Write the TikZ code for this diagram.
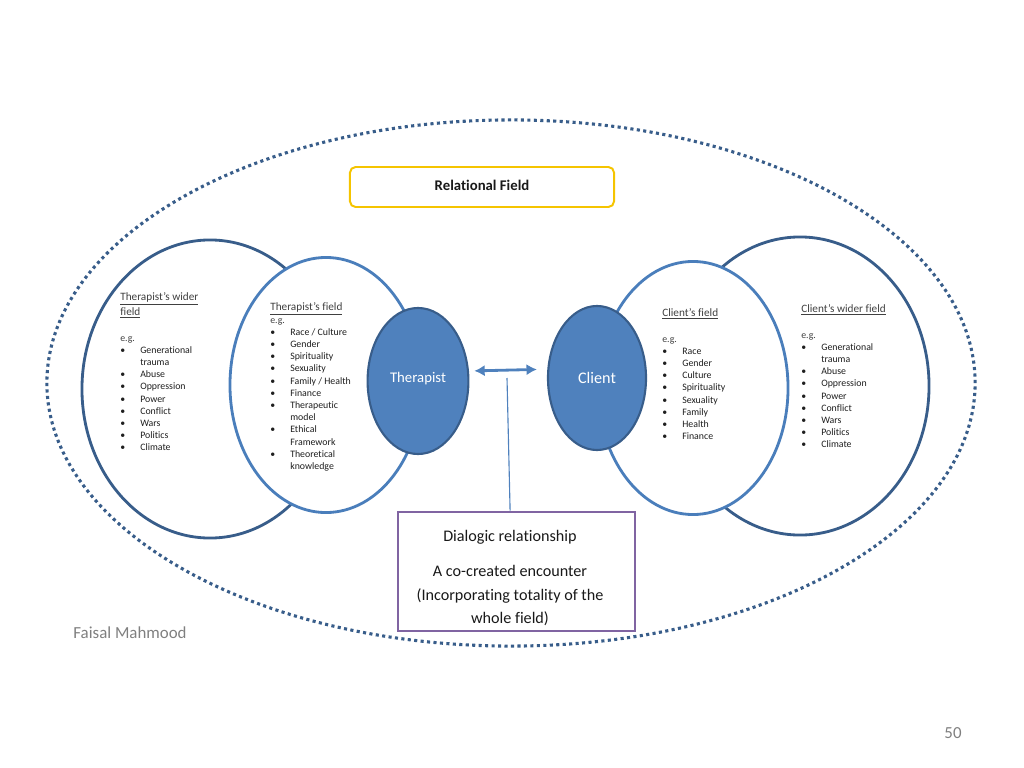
\documentclass[tikz,border=0pt]{standalone}
\usepackage{fontspec}
\setmainfont{Carlito}[Ligatures=NoCommon]
\usepackage{tikz}
\usetikzlibrary{arrows.meta,positioning,shapes.geometric}
\definecolor{FieldDark}{HTML}{385D8A}
\definecolor{FieldBlue}{HTML}{4A7EBB}
\definecolor{CoreBlue}{HTML}{4F81BD}
\definecolor{DialPurple}{HTML}{8064A2}
\definecolor{FieldGold}{HTML}{F5C400}
\definecolor{NoteGray}{HTML}{7F7F7F}
\definecolor{HeadGray}{HTML}{404040}

\begin{document}
\begin{tikzpicture}[x=0.025cm,y=-0.025cm,>=Latex,
  wider/.style={ellipse,draw=FieldDark,line width=2pt,fill=white,inner sep=0pt},
  field/.style={ellipse,draw=FieldBlue,line width=2pt,fill=white,inner sep=0pt},
  core/.style={ellipse,draw=FieldDark,line width=1.5pt,fill=CoreBlue,inner sep=0pt,text=white},
  fieldhead/.style={anchor=base west,inner sep=0pt,text=HeadGray,font=\fontsize{8}{10.7}\selectfont},
  fieldlist/.style={anchor=base west,inner sep=0pt,text=black!88,font=\fontsize{7}{8.68}\selectfont},
  note/.style={inner sep=0pt,text=NoteGray,font=\fontsize{12}{14}\selectfont}]
\useasboundingbox (0,0) rectangle (1024,768);
% the whole relational field
\node[ellipse,draw=FieldDark,line width=2.2pt,dash pattern=on 2.2pt off 2.4pt,minimum width=23.2cm,minimum height=13.15cm,inner sep=0pt] (whole) at (511,383) {};
\node[draw=FieldGold,line width=1.4pt,fill=white,rounded corners=4pt,minimum width=6.6cm,minimum height=1cm,font=\bfseries\fontsize{10.5}{12}\selectfont,text=black!90] (relf) at (482,187) {\raisebox{2.5pt}{Relational Field}};
% fields
\node[wider,minimum width=6.4cm,minimum height=7.45cm] (twide) at (210,389) {};
\node[wider,minimum width=6.45cm,minimum height=7.45cm] (cwide) at (800,386) {};
\node[field,minimum width=4.8cm,minimum height=6.375cm] (tfield) at (326,385) {};
\node[field,minimum width=4.75cm,minimum height=6.325cm] (cfield) at (693,388) {};
\node[core,minimum width=2.52cm,minimum height=3.65cm,font=\fontsize{10.5}{12}\selectfont] (ther) at (418,381) {\raisebox{5pt}{Therapist}};
\node[core,minimum width=2.45cm,minimum height=3.6cm,font=\fontsize{11.5}{13}\selectfont] (cli) at (597,378) {Client};
% texts
\node[fieldhead] (twhead) at (120,300) {\begin{tabular}[t]{@{}l@{}}\underline{Therapist’s wider}\\ \underline{field}\end{tabular}};
\node[fieldlist] (twlist) at (120,341) {\begin{tabular}[t]{@{}p{0.5cm}@{}l@{}}
\multicolumn{2}{@{}l@{}}{\textcolor{HeadGray}{e.g.}}\\
\textbullet & Generational\\ & trauma\\
\textbullet & Abuse\\ \textbullet & Oppression\\ \textbullet & Power\\
\textbullet & Conflict\\ \textbullet & Wars\\ \textbullet & Politics\\ \textbullet & Climate
\end{tabular}};
\node[fieldhead] (tfhead) at (270,310) {\underline{Therapist’s field}};
\node[fieldlist] (tflist) at (270,323) {\begin{tabular}[t]{@{}p{0.5cm}@{}l@{}}
\multicolumn{2}{@{}l@{}}{\textcolor{HeadGray}{e.g.}}\\
\textbullet & Race / Culture\\ \textbullet & Gender\\ \textbullet & Spirituality\\
\textbullet & Sexuality\\ \textbullet & Family / Health\\ \textbullet & Finance\\
\textbullet & Therapeutic\\ & model\\ \textbullet & Ethical\\ & Framework\\
\textbullet & Theoretical\\ & knowledge
\end{tabular}};
\node[fieldhead] (cfhead) at (662,316) {\underline{Client’s field}};
\node[fieldlist] (cflist) at (662,342) {\begin{tabular}[t]{@{}p{0.5cm}@{}l@{}}
\multicolumn{2}{@{}l@{}}{\textcolor{HeadGray}{e.g.}}\\
\textbullet & Race\\ \textbullet & Gender\\ \textbullet & Culture\\ \textbullet & Spirituality\\
\textbullet & Sexuality\\ \textbullet & Family\\ \textbullet & Health\\ \textbullet & Finance
\end{tabular}};
\node[fieldhead] (cwhead) at (801,312) {\underline{Client’s wider field}};
\node[fieldlist] (cwlist) at (801,338) {\begin{tabular}[t]{@{}p{0.5cm}@{}l@{}}
\multicolumn{2}{@{}l@{}}{\textcolor{HeadGray}{e.g.}}\\
\textbullet & Generational\\ & trauma\\
\textbullet & Abuse\\ \textbullet & Oppression\\ \textbullet & Power\\
\textbullet & Conflict\\ \textbullet & Wars\\ \textbullet & Politics\\ \textbullet & Climate
\end{tabular}};
% dialogue
\node[draw=DialPurple,line width=1.8pt,fill=white,minimum width=5.925cm,minimum height=2.975cm] (dial) at (516.5,571.5) {};
\node[anchor=base,inner sep=0pt,text=black!90,font=\fontsize{11.5}{16.9}\selectfont] (dialtxt) at (510,541) {\begin{tabular}[t]{@{}c@{}}Dialogic relationship\\[8.3pt]
A co-created encounter\\ (Incorporating totality of the\\ whole field)\end{tabular}};
\coordinate (meet) at (507,378);
\draw[draw=CoreBlue,line width=2pt,{Latex[length=2.6mm,width=2.8mm]}-{Latex[length=2.6mm,width=2.8mm]},shorten <=0.12cm,shorten >=0.25cm] ([yshift=0.25cm]ther.east) -- ([yshift=0.22cm]cli.west);
\draw[draw=CoreBlue,line width=0.8pt] (meet) -- ([xshift=-0.16cm]dial.north);
% footer
\node[note] (author) at (130,633) {Faisal Mahmood};
\node[note] (page) at (953,733) {50};
\end{tikzpicture}
\end{document}
